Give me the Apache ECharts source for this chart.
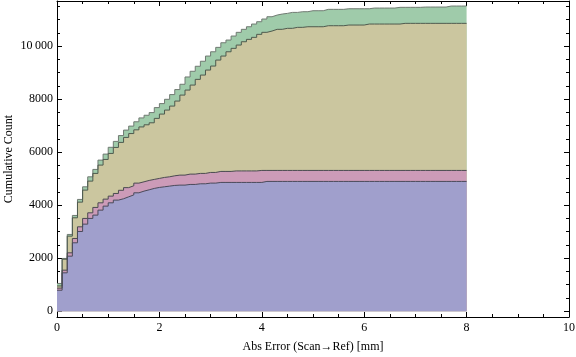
<!DOCTYPE html>
<html>
<head>
<meta charset="utf-8">
<script src="https://cdn.jsdelivr.net/npm/echarts@6/dist/echarts.min.js"></script>
<style>html,body{margin:0;padding:0;background:#fff;}#c{width:576px;height:357px;}</style>
</head>
<body>
<div id="c"></div>
<script>
// Bin width 0.1 mm, 80 bins from 0 to 8 (cumulative counts per bin)
const binWidth = 0.1;
const greenCounts = [1045,1989,2894,3611,4215,4691,5068,5347,5698,5925,
  6181,6404,6623,6830,6981,7144,7290,7390,7491,7679,
  7830,7992,8170,8359,8559,8834,9049,9238,9427,9623,
  9785,9951,10125,10227,10378,10518,10631,10729,10831,10918,
  11020,11106,11170,11208,11233,11270,11270,11296,11296,11333,
  11333,11333,11385,11385,11385,11385,11408,11408,11408,11408,
  11408,11434,11434,11434,11434,11434,11461,11461,11461,11461,
  11461,11472,11472,11472,11472,11472,11510,11510,11510,11510];
const khakiCounts = [950,1960,2830,3522,4113,4566,4906,5196,5510,5723,
  5950,6176,6366,6554,6700,6840,6950,7030,7106,7272,
  7434,7585,7736,7925,8151,8340,8529,8744,8906,9095,
  9246,9472,9623,9785,9914,10038,10163,10253,10329,10442,
  10518,10567,10631,10631,10669,10669,10706,10706,10729,10729,
  10729,10729,10767,10767,10767,10767,10793,10793,10793,10793,
  10831,10831,10831,10831,10831,10831,10831,10857,10857,10857,
  10857,10857,10857,10857,10857,10857,10857,10857,10857,10857];
const pinkCounts = [870,1547,2201,2742,3182,3498,3710,3913,4087,4226,
  4340,4440,4560,4660,4730,4830,4880,4931,4970,5007,
  5045,5069,5106,5132,5132,5170,5170,5196,5196,5233,
  5233,5271,5271,5271,5290,5290,5290,5290,5290,5309,
  5309,5309,5309,5309,5309,5309,5309,5309,5309,5309,
  5309,5309,5309,5309,5309,5309,5309,5309,5309,5309,
  5309,5309,5309,5309,5309,5309,5309,5309,5309,5309,
  5309,5309,5309,5309,5309,5309,5309,5309,5309,5309];
const blueCounts = [790,1446,2075,2579,3006,3283,3498,3623,3811,3962,
  4087,4189,4240,4313,4385,4465,4528,4578,4630,4667,
  4692,4717,4743,4755,4755,4780,4780,4805,4805,4830,
  4830,4856,4856,4856,4856,4856,4856,4856,4856,4856,
  4894,4894,4894,4894,4894,4894,4894,4894,4894,4894,
  4894,4894,4894,4894,4894,4894,4894,4894,4894,4894,
  4894,4894,4894,4894,4894,4894,4894,4894,4894,4894,
  4894,4894,4894,4894,4894,4894,4894,4894,4894,4894];
const yMajorTicks = [0,2000,4000,6000,8000,10000];
const yMinorTicks = [500,1000,1500,2500,3000,3500,4500,5000,5500,6500,7000,7500,8500,9000,9500,10500,11000,11500];
const xTitle = 'Abs Error (Scan\u2192Ref) [mm]';
const yTitle = 'Cumulative Count';

function toSteps(vals){
  const pts = vals.map((v,i)=>[+(i*binWidth).toFixed(2), v]);
  pts.push([+(vals.length*binWidth).toFixed(2), vals[vals.length-1]]);
  return pts;
}
const font = 'Liberation Serif';
function stepSeries(vals, color, lineCol){
  return {type:'line', step:'end', data:toSteps(vals), symbol:'none',
    xAxisIndex:0, yAxisIndex:0,
    lineStyle:{color:lineCol, width:1}, areaStyle:{color:color, opacity:1, origin:0},
    silent:true};
}
const yMin=-220, yMax=11700;
function yAx(pos, ticks, len, labels, line){
  return {type:'value', position:pos, min:yMin, max:yMax,
    axisLine:{show:line, lineStyle:{color:'#000', width:1}},
    axisTick:{show:true, inside:true, length:len, customValues:ticks, lineStyle:{color:'#000'}},
    axisLabel:{show:labels, customValues:ticks, color:'#000', fontFamily:font, fontSize:12, margin:4,
      formatter:v=> v>=10000 ? String(v).slice(0,-3)+'\u2009'+String(v).slice(-3) : String(v)},
    splitLine:{show:false}};
}
const yAxes = [yAx('left', yMajorTicks, 5, true, true), yAx('left', yMinorTicks, 3, false, false),
  yAx('right', yMajorTicks, 5, false, true), yAx('right', yMinorTicks, 3, false, false)];
yAxes[0].name = yTitle; yAxes[0].nameLocation='middle'; yAxes[0].nameGap=42; yAxes[0].nameMoveOverlap=false;
yAxes[0].nameTextStyle={color:'#000', fontFamily:font, fontSize:12};
function xAx(pos, labels){
  return {type:'value', position:pos, min:0, max:10, interval:2,
    axisLine:{show:true, onZero:false, lineStyle:{color:'#000', width:1}},
    axisTick:{show:true, inside:true, length:5, lineStyle:{color:'#000'}},
    minorTick:{show:true, splitNumber:4, length:3, lineStyle:{color:'#000'}},
    axisLabel:{show:labels, color:'#000', fontFamily:font, fontSize:12, margin:5},
    splitLine:{show:false}, minorSplitLine:{show:false}};
}
const xAxes = [xAx('bottom', true), xAx('top', false)];
xAxes[0].name = xTitle; xAxes[0].nameLocation='middle'; xAxes[0].nameGap=24; xAxes[0].nameMoveOverlap=false;
xAxes[0].nameTextStyle={color:'#000', fontFamily:font, fontSize:12};

const chart = echarts.init(document.getElementById('c'), null, {renderer:'canvas'});
chart.setOption({
  animation:false,
  backgroundColor:'#fff',
  grid:{left:57, right:7, top:1, bottom:40, containLabel:false, outerBoundsMode:'none'},
  xAxis:xAxes,
  yAxis:yAxes,
  series:[
    stepSeries(greenCounts, '#9fcbaa', '#707a72'),
    stepSeries(khakiCounts, '#cbc69f', '#4e5a4e'),
    stepSeries(pinkCounts, '#cc9bb8', '#4a4a50'),
    stepSeries(blueCounts, '#a09fcc', '#4a4a5a')
  ]
});
</script>
</body>
</html>
